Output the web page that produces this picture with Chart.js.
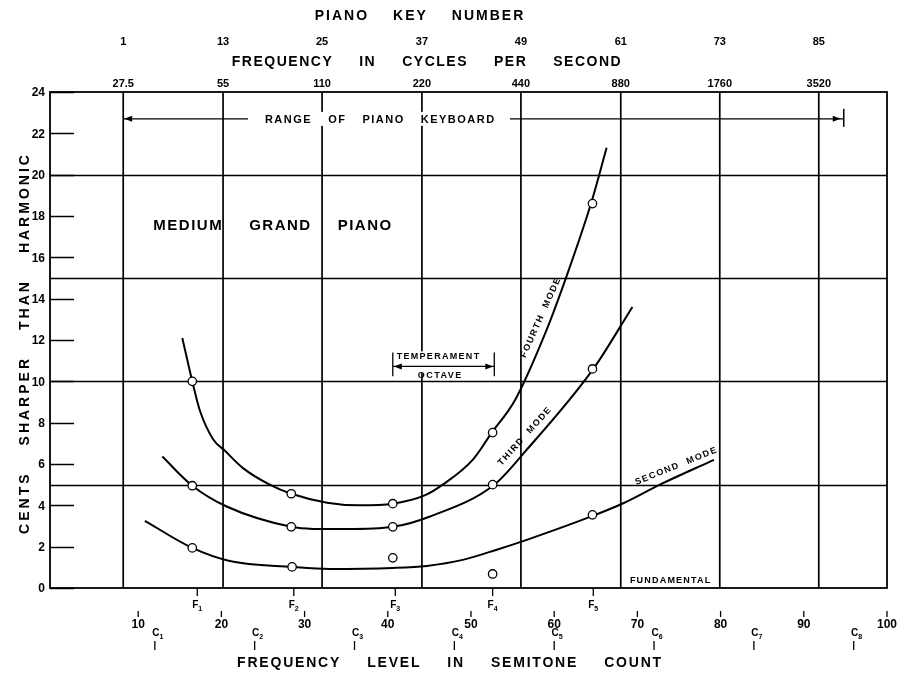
<!DOCTYPE html>
<html>
<head>
<meta charset="utf-8">
<script src="https://cdn.jsdelivr.net/npm/chart.js@4"></script>
<style>
  html, body { margin: 0; padding: 0; background: #fff; }
  #wrap { width: 901px; height: 675px; }
</style>
</head>
<body>
<div id="wrap"><canvas id="chart"></canvas></div>
<script>
// ---- data ----
const pianoKeys = ['1', '13', '25', '37', '49', '61', '73', '85'];
const frequencies = ['27.5', '55', '110', '220', '440', '880', '1760', '3520'];
// semitone count where each A (27.5 Hz, 55 Hz ...) line is drawn
const octaveLines = [8.2, 20.2, 32.1, 44.1, 56.0, 68.0, 79.9, 91.8];
const semitoneTicks = [10, 20, 30, 40, 50, 60, 70, 80, 90, 100];
const cNotes = [12, 24, 36, 48, 60, 72, 84, 96];
const fNotes = [17.1, 28.7, 40.9, 52.6, 64.7];
const centTicks = [0, 2, 4, 6, 8, 10, 12, 14, 16, 18, 20, 22, 24];
const centGrid = [5, 10, 15, 20];

const fourthMode = [
  [15.3, 12.1], [16.5, 10.0], [17.4, 8.6], [19.0, 7.2], [20.4, 6.65], [22.6, 5.8], [25.8, 5.0],
  [28.4, 4.56], [32.7, 4.13], [36.5, 4.0], [40.6, 4.08], [44.5, 4.49], [46.6, 5.0], [50.2, 6.2],
  [52.5, 7.52], [55.3, 9.1], [59.1, 12.5], [61.5, 15.1], [64.5, 18.7], [66.3, 21.3]
];
const thirdMode = [
  [12.9, 6.36], [16.5, 4.95], [20.7, 3.93], [28.4, 2.96], [31, 2.86], [35, 2.85],
  [40.6, 2.96], [45, 3.45], [52.8, 5.0], [56.5, 6.6], [64.7, 10.6], [69.4, 13.6]
];
const secondMode = [
  [10.8, 3.25], [16.5, 1.94], [21, 1.31], [28.5, 1.02], [33, 0.92], [40.6, 0.97],
  [44.7, 1.07], [49, 1.36], [53, 1.84], [56.7, 2.33], [64.7, 3.5], [68.3, 4.1],
  [72.7, 5.0], [79.2, 6.2]
];
// measured points (open circles)
const measured = [
  [16.5, 10.0], [28.4, 4.56], [40.6, 4.08], [52.6, 7.52], [64.6, 18.6],
  [16.5, 4.95], [28.4, 2.96], [40.6, 2.96], [52.6, 5.0], [64.6, 10.6],
  [16.5, 1.94], [28.5, 1.02], [40.6, 1.46], [52.6, 0.68], [64.6, 3.54]
];

const FONT = '"Liberation Sans", Arial, sans-serif';
const pts = arr => arr.map(([x, y]) => ({ x, y }));

function words(ctx, list, cx, cy, gap, spacing) {
  ctx.letterSpacing = spacing + 'px';
  const w = list.map(t => ctx.measureText(t).width);
  const total = w.reduce((a, b) => a + b, 0) + gap * (list.length - 1);
  let x = cx - total / 2;
  ctx.textAlign = 'left';
  list.forEach((t, i) => { ctx.fillText(t, x, cy); x += w[i] + gap; });
  ctx.letterSpacing = '0px';
}

function sub(ctx, main, digit, x, y, size) {
  ctx.textAlign = 'left';
  ctx.font = 'bold ' + size + 'px ' + FONT;
  const w = ctx.measureText(main).width;
  ctx.fillText(main, x - w / 2, y);
  ctx.font = 'bold ' + (size - 3) + 'px ' + FONT;
  ctx.fillText(digit, x + w / 2, y + 4);
}

function arrow(ctx, x, y, dir) {
  ctx.beginPath();
  ctx.moveTo(x, y);
  ctx.lineTo(x - dir * 8, y - 3);
  ctx.lineTo(x - dir * 8, y + 3);
  ctx.closePath();
  ctx.fill();
}

function rotated(ctx, text, px, py, deg, size, spacing) {
  ctx.save();
  ctx.translate(px, py);
  ctx.rotate(deg * Math.PI / 180);
  ctx.font = 'bold ' + size + 'px ' + FONT;
  ctx.letterSpacing = spacing + 'px';
  ctx.textAlign = 'center';
  ctx.textBaseline = 'middle';
  ctx.fillText(text, 0, 0);
  ctx.restore();
}

const gridPlugin = {
  id: 'grid',
  beforeDatasetsDraw(chart) {
    const { ctx, chartArea: a, scales: { x, y } } = chart;
    ctx.save();
    ctx.strokeStyle = '#000';
    ctx.lineWidth = 1.3;
    centGrid.forEach(v => {
      const py = Math.round(y.getPixelForValue(v)) + 0.5;
      ctx.beginPath(); ctx.moveTo(a.left, py); ctx.lineTo(a.right, py); ctx.stroke();
    });
    ctx.lineWidth = 1.7;
    octaveLines.forEach(v => {
      const px = x.getPixelForValue(v);
      ctx.beginPath(); ctx.moveTo(px, a.top); ctx.lineTo(px, a.bottom); ctx.stroke();
    });
    // left tick marks
    ctx.lineWidth = 1.5;
    centTicks.forEach(v => {
      const py = Math.round(y.getPixelForValue(v)) + 0.5;
      ctx.beginPath(); ctx.moveTo(a.left, py); ctx.lineTo(a.left + 24, py); ctx.stroke();
    });
    // frame
    ctx.lineWidth = 1.8;
    ctx.strokeRect(a.left, a.top, a.right - a.left, a.bottom - a.top);

    // temperament octave box (white behind, covers grid)
    const bx0 = x.getPixelForValue(40.6), bx1 = x.getPixelForValue(52.8);
    const by0 = y.getPixelForValue(11.45), by1 = y.getPixelForValue(10.2);
    ctx.fillStyle = '#fff';
    ctx.fillRect(bx0 + 2, by0, bx1 - bx0 - 4, by1 - by0 - 4);
    ctx.restore();
  }
};

const labelPlugin = {
  id: 'labels',
  afterDatasetsDraw(chart) {
    const { ctx, chartArea: a, scales: { x, y } } = chart;
    ctx.save();
    ctx.fillStyle = '#000';
    ctx.strokeStyle = '#000';
    ctx.textBaseline = 'middle';

    // y tick labels
    ctx.font = 'bold 12px ' + FONT;
    ctx.textAlign = 'right';
    centTicks.forEach(v => ctx.fillText(String(v), a.left - 5, y.getPixelForValue(v) + 1));

    // top: piano keys and frequencies
    ctx.font = 'bold 11px ' + FONT;
    ctx.textAlign = 'center';
    octaveLines.forEach((v, i) => {
      const px = x.getPixelForValue(v);
      ctx.fillText(pianoKeys[i], px, a.top - 50);
      ctx.fillText(frequencies[i], px, a.top - 8);
    });
    ctx.font = 'bold 14px ' + FONT;
    words(ctx, ['PIANO', 'KEY', 'NUMBER'], 420, a.top - 76, 24, 2);
    words(ctx, ['FREQUENCY', 'IN', 'CYCLES', 'PER', 'SECOND'], 427, a.top - 30, 26, 1.5);

    // bottom: F marks
    ctx.lineWidth = 1.3;
    fNotes.forEach((v, i) => {
      const px = x.getPixelForValue(v);
      ctx.beginPath(); ctx.moveTo(px, a.bottom); ctx.lineTo(px, a.bottom + 8); ctx.stroke();
      sub(ctx, 'F', String(i + 1), px - 2, a.bottom + 17, 10);
    });
    // semitone numbers
    ctx.font = 'bold 12px ' + FONT;
    ctx.textAlign = 'center';
    semitoneTicks.forEach(v => {
      const px = x.getPixelForValue(v);
      ctx.beginPath(); ctx.moveTo(px, a.bottom + 23); ctx.lineTo(px, a.bottom + 29); ctx.stroke();
      ctx.fillText(String(v), px, a.bottom + 37);
    });
    // c marks
    cNotes.forEach((v, i) => {
      const px = x.getPixelForValue(v);
      sub(ctx, 'C', String(i + 1), px + 1, a.bottom + 45, 10);
      ctx.beginPath(); ctx.moveTo(px, a.bottom + 53); ctx.lineTo(px, a.bottom + 62); ctx.stroke();
    });
    ctx.font = 'bold 14px ' + FONT;
    words(ctx, ['FREQUENCY', 'LEVEL', 'IN', 'SEMITONE', 'COUNT'], 450, a.bottom + 75, 26, 1.8);

    // left axis title
    ctx.save();
    ctx.translate(25, 343);
    ctx.rotate(-Math.PI / 2);
    ctx.font = 'bold 14px ' + FONT;
    words(ctx, ['CENTS', 'SHARPER', 'THAN', 'HARMONIC'], 0, 0, 26, 3);
    ctx.restore();

    // range of piano keyboard
    const ry = y.getPixelForValue(22.7);
    const rx0 = x.getPixelForValue(octaveLines[0]), rx1 = x.getPixelForValue(94.8);
    ctx.lineWidth = 1.3;
    ctx.beginPath(); ctx.moveTo(rx0, ry); ctx.lineTo(rx1, ry); ctx.stroke();
    arrow(ctx, rx0 + 1, ry, -1);
    arrow(ctx, rx1 - 3, ry, 1);
    ctx.lineWidth = 1.5;
    ctx.beginPath(); ctx.moveTo(rx1, ry - 10); ctx.lineTo(rx1, ry + 8); ctx.stroke();
    ctx.fillStyle = '#fff';
    ctx.fillRect(248, ry - 7, 262, 14);
    ctx.fillStyle = '#000';
    ctx.font = 'bold 11px ' + FONT;
    words(ctx, ['RANGE', 'OF', 'PIANO', 'KEYBOARD'], x.getPixelForValue(39.1), ry + 1, 16, 1.5);

    // title in plot
    ctx.font = 'bold 15px ' + FONT;
    words(ctx, ['MEDIUM', 'GRAND', 'PIANO'], x.getPixelForValue(26.2), y.getPixelForValue(17.5), 26, 1.5);

    // temperament octave bracket
    const bx0 = x.getPixelForValue(40.6), bx1 = x.getPixelForValue(52.8);
    const byT = y.getPixelForValue(11.4), byB = y.getPixelForValue(10.25), byA = y.getPixelForValue(10.72);
    ctx.lineWidth = 1.3;
    ctx.beginPath();
    ctx.moveTo(bx0, byT); ctx.lineTo(bx0, byB);
    ctx.moveTo(bx1, byT); ctx.lineTo(bx1, byB);
    ctx.moveTo(bx0, byA); ctx.lineTo(bx1, byA);
    ctx.stroke();
    arrow(ctx, bx0 + 1, byA, -1);
    arrow(ctx, bx1 - 1, byA, 1);
    ctx.font = 'bold 9px ' + FONT;
    words(ctx, ['TEMPERAMENT'], x.getPixelForValue(46.1), y.getPixelForValue(11.22), 0, 1.3);
    words(ctx, ['OCTAVE'], x.getPixelForValue(46.3), y.getPixelForValue(10.28), 0, 1.5);

    // curve labels
    rotated(ctx, 'FOURTH  MODE', x.getPixelForValue(58.4), y.getPixelForValue(13.1), -66, 9, 1.5);
    rotated(ctx, 'THIRD  MODE', x.getPixelForValue(56.5), y.getPixelForValue(7.35), -48, 9, 1.5);
    rotated(ctx, 'SECOND  MODE', x.getPixelForValue(74.7), y.getPixelForValue(5.9), -22, 9, 1.5);
    ctx.font = 'bold 9px ' + FONT;
    words(ctx, ['FUNDAMENTAL'], x.getPixelForValue(74.0), y.getPixelForValue(0.35), 0, 1.2);
    ctx.restore();
  }
};

const curve = arr => ({
  data: pts(arr),
  showLine: true,
  borderColor: '#000',
  borderWidth: 2,
  pointRadius: 0,
  cubicInterpolationMode: 'monotone',
  fill: false
});

new Chart(document.getElementById('chart'), {
  type: 'scatter',
  data: {
    datasets: [
      {
        data: pts(measured),
        showLine: false,
        pointRadius: 4.2,
        pointBackgroundColor: '#fff',
        pointBorderColor: '#000',
        pointBorderWidth: 1.3
      },
      curve(fourthMode),
      curve(thirdMode),
      curve(secondMode)
    ]
  },
  options: {
    responsive: true,
    maintainAspectRatio: false,
    animation: false,
    layout: { padding: { left: 50, top: 92, right: 14, bottom: 87 } },
    plugins: { legend: { display: false }, tooltip: { enabled: false } },
    scales: {
      x: { type: 'linear', min: -0.6, max: 100, display: false },
      y: { type: 'linear', min: 0, max: 24, display: false }
    }
  },
  plugins: [gridPlugin, labelPlugin]
});
</script>
</body>
</html>
